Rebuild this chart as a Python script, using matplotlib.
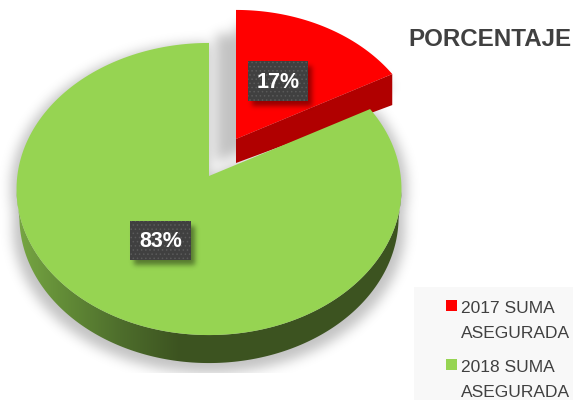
import numpy as np
import matplotlib
matplotlib.use("Agg")
import matplotlib.pyplot as plt
from matplotlib.path import Path
from matplotlib.patches import Polygon, Rectangle

# data
series = ["2017 SUMA\nASEGURADA", "2018 SUMA\nASEGURADA"]
values = [17, 83]
pct_labels = ["17%", "83%"]
title = "PORCENTAJE"

colors = ["#ff0000", "#96d452"]
W, H = 573, 402
FONT = ["Liberation Sans", "DejaVu Sans"]

fracs = np.array(values) / sum(values)
edges = 90 - 360 * np.concatenate([[0], np.cumsum(fracs)])


def project(theta, center, scale=(1.0, 1.0)):
    # tilted disc, far side is a bit smaller than near side
    t = np.radians(theta)
    w = 1 + 0.089 * np.sin(t)
    x = center[0] + scale[0] * 191.7 * np.cos(t) / w
    y = center[1] - scale[1] * 144.9 * np.sin(t) / w
    return np.column_stack([x, y])


def slice_poly(t0, t1, center, scale=(1.0, 1.0), dy=0):
    arc = project(np.linspace(t0, t1, 200), center, scale)
    pts = np.vstack([[center], arc])
    pts[:, 1] += dy
    return pts


def blur(a, sigma):
    r = int(3 * sigma)
    k = np.exp(-0.5 * (np.arange(-r, r + 1) / sigma) ** 2)
    k /= k.sum()
    a = np.apply_along_axis(lambda m: np.convolve(m, k, mode="same"), 0, a)
    return np.apply_along_axis(lambda m: np.convolve(m, k, mode="same"), 1, a)


xx, yy = np.meshgrid(np.arange(W) + 0.5, np.arange(H) + 0.5)
grid = np.column_stack([xx.ravel(), yy.ravel()])


def mask_of(polys):
    m = np.zeros(W * H, dtype=bool)
    for p in polys:
        m |= Path(p).contains_points(grid)
    return m.reshape(H, W).astype(float)


def shadow_img(a, alpha):
    img = np.zeros((H, W, 4))
    img[..., 3] = a * alpha
    return img


fig = plt.figure(figsize=(W / 100, H / 100), dpi=100)
ax = fig.add_axes([0, 0, 1, 1])
ax.set_xlim(0, W)
ax.set_ylim(H, 0)
ax.axis("off")

red_c = (236, 140)
green_c = (209, 177)
red_s = (0.97, 0.97)

red_top = slice_poly(edges[0], edges[1], red_c, red_s)
green_top = slice_poly(edges[1], edges[2], green_c)

# soft shadow behind the pie and in the gap
m = mask_of([
    slice_poly(edges[1], edges[2], green_c, (1.03, 1.0)),
    slice_poly(edges[1], edges[2], green_c, (1.02, 1.0), 38),
    slice_poly(edges[0], edges[1], red_c, red_s, 14),
    slice_poly(edges[0], edges[1], (216, 164), red_s),
])
shadow = blur(m, 6) * 0.24
shadow[374:, :] = 0
ax.imshow(shadow_img(shadow, 1.0), extent=(0, W, H, 0), aspect="auto", zorder=1)

# legend panel
ax.add_patch(Rectangle((414, 288), W - 414, 113, fc="#f8f8f8", ec="none", zorder=0.5))

# red slice side wall + top
tip = red_top[-1]
apex = red_top[0]
ax.add_patch(Polygon([apex, tip, tip + [0, 31], apex + [0, 24]], fc="#b00000", ec="none", zorder=2))
ax.add_patch(Polygon(red_top, fc=colors[0], ec="none", zorder=3))

# green slice side wall, gradient clipped to the rim
rim_top = project(np.linspace(186, 354, 200), green_c)
rim_low = project(np.linspace(354, 186, 200), green_c, (0.985, 1.0)) + [0, 28]
rim = Polygon(np.vstack([rim_top, rim_low]), fc="none", ec="none", transform=ax.transData)
ax.add_patch(rim)
stops_x = [15, 60, 120, 180, 400]
stops_r = [0x78, 0x64, 0x4e, 0x3c, 0x3c]
stops_g = [0xa8, 0x8e, 0x6e, 0x53, 0x53]
stops_b = [0x44, 0x38, 0x2c, 0x20, 0x20]
px = np.arange(W) + 0.5
grad = np.stack([np.interp(px, stops_x, stops_r),
                 np.interp(px, stops_x, stops_g),
                 np.interp(px, stops_x, stops_b)], axis=-1)[None, :, :] / 255.0
im = ax.imshow(grad, extent=(0, W, H, 0), aspect="auto", zorder=4)
im.set_clip_path(rim)

ax.add_patch(Polygon(green_top, fc=colors[1], ec="none", zorder=5))

# value labels
boxes = [(248, 62, 60, 40), (130, 222, 61, 39)]
m2 = mask_of([[(x, y), (x + w, y), (x + w, y + h), (x, y + h)] for x, y, w, h in boxes])
# shift the label shadow down and right
m2 = np.roll(np.roll(m2, 5, axis=0), 4, axis=1)
ax.imshow(shadow_img(blur(m2, 2.5), 0.42), extent=(0, W, H, 0), aspect="auto", zorder=6)
plt.rcParams["hatch.linewidth"] = 0.6
for (x, y, w, h), lab in zip(boxes, pct_labels):
    ax.add_patch(Rectangle((x, y), w, h, fc="#404040", ec="#5a5a5a", lw=0, hatch="....", zorder=7))
    ax.text(x + w / 2, y + h / 2 + 0.5, lab, color="white", fontsize=15.5, fontweight="bold",
            family=FONT, ha="center", va="center", zorder=8)

# title and legend, font has no narrow cut so sizes are fitted to the widths
ax.text(408, 46.5, title, color="#404040", fontsize=17.4, fontweight="bold", family=FONT,
        ha="left", va="baseline", zorder=8)
for i, (name, c) in enumerate(zip(series, colors)):
    y0 = 301 + 59 * i
    ax.add_patch(Rectangle((446, y0), 11, 11, fc=c, ec="none", zorder=8))
    ax.text(461, y0 + 12, name.split("\n")[0], color="#404040", fontsize=12.5, family=FONT,
            ha="left", va="baseline", zorder=8)
    ax.text(461, y0 + 37, name.split("\n")[1], color="#404040", fontsize=12.5, family=FONT,
            ha="left", va="baseline", zorder=8)

fig.savefig("out.png", dpi=100)
